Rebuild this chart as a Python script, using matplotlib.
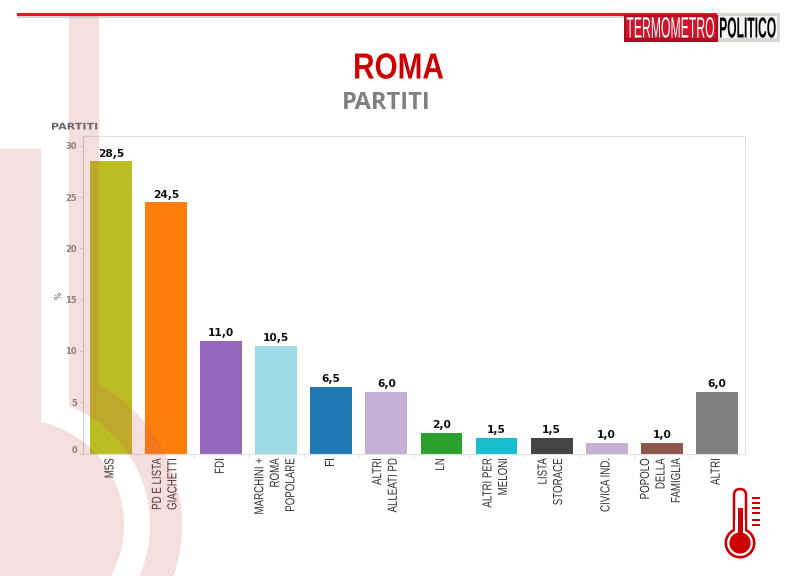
import numpy as np
import matplotlib
matplotlib.use("Agg")
import matplotlib.pyplot as plt
from matplotlib.patches import Rectangle, Polygon, Circle, FancyBboxPatch
from matplotlib.patheffects import AbstractPathEffect
from matplotlib.transforms import Affine2D, ScaledTranslation

categories = ["M5S", "PD E LISTA\nGIACHETTI", "FDI", "MARCHINI +\nROMA\nPOPOLARE", "FI",
              "ALTRI\nALLEATI PD", "LN", "ALTRI PER\nMELONI", "LISTA\nSTORACE",
              "CIVICA IND.", "POPOLO\nDELLA\nFAMIGLIA", "ALTRI"]
values = [28.5, 24.5, 11.0, 10.5, 6.5, 6.0, 2.0, 1.5, 1.5, 1.0, 1.0, 6.0]
bar_colors = ["#bcbd22", "#ff7f0e", "#9467bd", "#9edae5", "#1f77b4", "#c5b0d5",
              "#2ca02c", "#17becf", "#444444", "#c5b0d5", "#8c564b", "#7f7f7f"]
y_ticks = [0, 5, 10, 15, 20, 25, 30]


class Stretch(AbstractPathEffect):
    """Stretch real text glyphs perpendicular to the baseline."""
    def __init__(self, sy, center=False):
        super().__init__()
        self.sy = sy
        self.center = center

    def draw_path(self, renderer, gc, tpath, affine, rgbFace=None):
        t = Affine2D()
        if self.center:
            e = tpath.get_extents()
            m = (e.ymin + e.ymax) / 2
            t = t.translate(0, -m).scale(1, self.sy).translate(0, m)
        else:
            t = t.scale(1, self.sy)
        renderer.draw_path(gc, tpath, t + affine, rgbFace)


W, H = 800, 576
fig = plt.figure(figsize=(W / 100, H / 100), dpi=100, facecolor="white")
SANS = ["Liberation Sans", "DejaVu Sans"]

# ---- chart
ax = fig.add_axes([83.3 / W, 1 - 453.5 / H, (744.5 - 83.3) / W, (453.5 - 135.5) / H])
x = np.arange(len(values))
ax.bar(x, values, width=0.76, color=bar_colors, zorder=2)
ax.set_xlim(-0.5, len(values) - 0.5)
ax.set_ylim(0, 31.02)
for xi, v in zip(x, values):
    ax.annotate(f"{v:.1f}".replace(".", ","), (xi, v), xytext=(0, 2.0), textcoords="offset points",
                ha="center", va="bottom", fontsize=7.7, fontweight="bold", family="DejaVu Sans",
                color="#111111", zorder=3)

for side, sp in ax.spines.items():
    sp.set_color("#e2e2e2")
    sp.set_linewidth(0.8)
ax.spines["left"].set_color("#d0cccc")

ax.set_yticks(y_ticks)
ax.tick_params(axis="y", length=2, width=0.6, color="#cccccc", pad=2.5,
               labelsize=6, labelcolor="#8a8585")
for lab in ax.get_yticklabels():
    lab.set_fontweight("bold")
    if lab.get_text() == "0":
        lab.set_transform(lab.get_transform() + ScaledTranslation(0, 0.042, fig.dpi_scale_trans))

ax.set_xticks(x)
ax.set_xticklabels(categories, rotation=90, ha="center", va="top", multialignment="right",
                   family=SANS, fontsize=7, color="#333333", linespacing=1.69)
ax.tick_params(axis="x", which="major", length=0, pad=3.5)
ax.set_xticks(x[:-1] + 0.5, minor=True)
ax.tick_params(axis="x", which="minor", length=3, width=0.6, color="#dddddd")
for lab in ax.get_xticklabels():
    lab.set_path_effects([Stretch(1.35, center=True)])
    lab.set_transform(lab.get_transform() + ScaledTranslation(-0.015, 0, fig.dpi_scale_trans))

# ---- page furniture in pixel coordinates
ov = fig.add_axes([0, 0, 1, 1], zorder=5)
ov.set_xlim(0, W)
ov.set_ylim(H, 0)
ov.axis("off")
ov.patch.set_alpha(0)

pink = (205 / 255, 90 / 255, 90 / 255, 0.2)
# background monogram
cx, cy = 22, 525
a_out = np.linspace(-np.arccos((99 - cx) / 160), np.pi / 2, 60)
a_in = np.linspace(np.pi / 2, -np.arccos((69 - cx) / 128), 60)
ring = [(69, 15), (99, 15)]
ring += [(cx + 160 * np.cos(a), cy + 160 * np.sin(a)) for a in a_out]
ring += [(cx + 128 * np.cos(a), cy + 128 * np.sin(a)) for a in a_in]
ov.add_patch(Polygon(ring, closed=True, fc=pink, ec="none"))
a_d = np.linspace(-np.arccos((41 - 19) / 105), np.pi / 2, 60)
disc = [(0, 149), (41, 149)] + [(19 + 105 * np.cos(a), cy + 105 * np.sin(a)) for a in a_d] + [(0, 630)]
ov.add_patch(Polygon(disc, closed=True, fc=pink, ec="none"))

# top rule
ov.add_patch(Rectangle((17, 15.5), 756, 2, fc="#b5b5b5", ec="none", alpha=0.6))
ov.add_patch(Rectangle((17, 13.3), 756, 2.3, fc="#e0181c", ec="none"))

# logo
ov.add_patch(Rectangle((717, 13), 63, 28.5, fc="#d6d6d2", ec="none"))
ov.add_patch(Rectangle((719, 16), 58, 22, fc="#f6f6f4", ec="none"))
ov.add_patch(Rectangle((623.5, 15), 94, 26.5, fc="#a81020", ec="none"))
ov.add_patch(Rectangle((625.5, 16.5), 90, 21.5, fc="#d0142a", ec="none"))
t1 = ov.text(670.5, 37.5, "TERMOMETRO", ha="center", va="baseline", family=SANS, fontsize=8.8,
             color="white")
t1.set_path_effects([Stretch(2.4)])
t2 = ov.text(747.5, 37.5, "POLITICO", ha="center", va="baseline", family=SANS, fontsize=8.7,
             color="#000000", fontweight="bold")
t2.set_path_effects([Stretch(2.4)])

# titles
roma = ov.text(398.5, 78.5, "ROMA", ha="center", va="baseline", family=SANS, fontweight="bold",
               fontsize=21.4, color="#cc0000")
roma.set_path_effects([Stretch(1.22)])
ov.text(386, 109, "PARTITI", ha="center", va="baseline", family="Open Sans", fontweight="bold",
        fontsize=17, color="#808080")
small = ov.text(51, 129.5, "PARTITI", ha="left", va="baseline", family="DejaVu Sans", fontweight="bold",
                fontsize=8, color="#6f6a6a")
small.set_path_effects([Stretch(0.82)])
ov.text(59, 295, "%", rotation=90, ha="center", va="center", family="DejaVu Sans",
        fontsize=5.5, color="#666666")

# thermometer
red = "#cc0000"
ov.add_patch(FancyBboxPatch((734, 489), 12, 50, boxstyle="round,pad=0,rounding_size=6",
                            fc="white", ec=red, lw=1.8))
ov.add_patch(Circle((740, 543), 14.2, fc="white", ec=red, lw=1.9))
ov.add_patch(Rectangle((735.3, 520), 9.4, 14, fc="white", ec="none"))
ov.add_patch(Circle((740, 543), 10.6, fc=red, ec="none"))
ov.add_patch(Rectangle((737.5, 508), 5, 30, fc=red, ec="none"))
for yy in (498, 503, 508, 513, 520, 525):
    ov.add_patch(Rectangle((751.5, yy - 1), 8, 2, fc=red, ec="none"))

fig.savefig("out.png", dpi=100, facecolor="white")
